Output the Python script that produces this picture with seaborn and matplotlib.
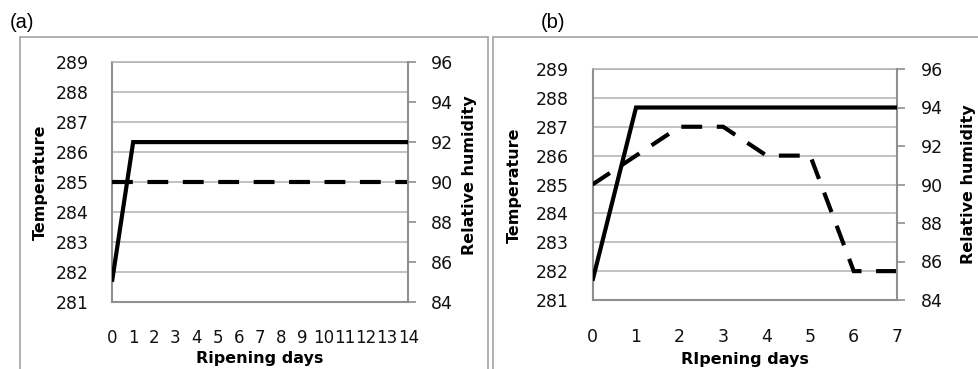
import matplotlib
matplotlib.use("Agg")
import matplotlib.pyplot as plt
from matplotlib.lines import Line2D
import seaborn as sns

# ---------------- data ----------------
days_a = [0, 1, 2, 3, 4, 5, 6, 7, 8, 9, 10, 11, 12, 13, 14]
temp_a = [285, 285, 285, 285, 285, 285, 285, 285, 285, 285, 285, 285, 285, 285, 285]
rh_a = [85, 92, 92, 92, 92, 92, 92, 92, 92, 92, 92, 92, 92, 92, 92]

days_b = [0, 1, 2, 3, 4, 5, 6, 7]
temp_b = [285, 286, 287, 287, 286, 286, 282, 282]
rh_b = [85, 94, 94, 94, 94, 94, 94, 94]

temp_ticks = [281, 282, 283, 284, 285, 286, 287, 288, 289]
rh_ticks = [84, 86, 88, 90, 92, 94, 96]

panel_labels = ["(a)", "(b)"]
xlabels = ["Ripening days", "RIpening days"]
ylabel_left = "Temperature"
ylabel_right = "Relative humidity"

# ---------------- style ----------------
sns.set_style("white")
plt.rcParams["font.family"] = ["DejaVu Sans"]

W, H = 979, 369
fig = plt.figure(figsize=(W / 100, H / 100), dpi=100)

GRID = "#b0b0b0"
SPINE = "#8f8f8f"
TXT = "#111111"


def fx(px):
    return px / W


def fy(py):
    return 1 - py / H


# panel frames
frame_kw = dict(color="#a3a3a3", lw=1.2, transform=fig.transFigure)
fig.add_artist(Line2D([fx(20), fx(20)], [fy(37), fy(380)], **frame_kw))
fig.add_artist(Line2D([fx(20), fx(488.5)], [fy(37), fy(37)], **frame_kw))
fig.add_artist(Line2D([fx(488.5), fx(488.5)], [fy(37), fy(380)], **frame_kw))
fig.add_artist(Line2D([fx(493.5), fx(493.5)], [fy(37), fy(380)], **frame_kw))
fig.add_artist(Line2D([fx(493.5), fx(990)], [fy(37), fy(37)], **frame_kw))

specs = [
    dict(rect=[fx(112), fy(301.7), 296.3 / W, 239.4 / H],
         days=days_a, temp=temp_a, rh=rh_a, xmax=14,
         lpad=16.5, rpad=10.5,
         ylab_l=(-0.243, 0.498), ylab_r=(1.208, 0.529), xlab=(0.5, -0.237),
         plabel=(22, 22.5), xtsize=12),
    dict(rect=[fx(592.5), fy(300), 304.8 / W, 231 / H],
         days=days_b, temp=temp_b, rh=rh_b, xmax=7,
         lpad=17, rpad=11.5,
         ylab_l=(-0.255, 0.498), ylab_r=(1.232, 0.502), xlab=(0.5, -0.258),
         plabel=(553.5, 23), xtsize=12.5),
]

for i, s in enumerate(specs):
    ax = fig.add_axes(s["rect"])
    tw = ax.twinx()

    # temperature (dashed, left axis)
    sns.lineplot(x=s["days"], y=s["temp"], ax=ax, color="black", linewidth=3,
                 linestyle=(0, (5, 3.5)), dash_capstyle="butt",
                 dash_joinstyle="miter", zorder=3)
    # relative humidity (solid, right axis)
    sns.lineplot(x=s["days"], y=s["rh"], ax=tw, color="black", linewidth=3,
                 solid_capstyle="butt", solid_joinstyle="miter", zorder=3)

    ax.set_xlim(0, s["xmax"])
    ax.set_xticks(s["days"])
    ax.set_ylim(temp_ticks[0], temp_ticks[-1])
    ax.set_yticks(temp_ticks)
    tw.set_ylim(rh_ticks[0], rh_ticks[-1])
    tw.set_yticks(rh_ticks)

    ax.grid(axis="y", color=GRID, lw=1.1)
    ax.grid(axis="x", visible=False)
    ax.set_axisbelow(True)

    for side in ["left", "bottom"]:
        ax.spines[side].set_visible(True)
        ax.spines[side].set_color(SPINE)
        ax.spines[side].set_linewidth(1.5)
    ax.spines["right"].set_visible(False)
    ax.spines["top"].set_visible(True)
    ax.spines["top"].set_color(GRID)
    ax.spines["top"].set_linewidth(1.1)
    for side in ["left", "bottom", "top"]:
        tw.spines[side].set_visible(False)
    tw.spines["right"].set_visible(True)
    tw.spines["right"].set_color(SPINE)
    tw.spines["right"].set_linewidth(1.5)

    ax.tick_params(axis="y", length=0, pad=s["lpad"], labelsize=12.5,
                   labelcolor=TXT, left=False)
    ax.tick_params(axis="x", length=0, pad=20, labelsize=s["xtsize"],
                   labelcolor=TXT, bottom=False)
    tw.tick_params(axis="y", right=True, length=5.5, width=1.2, color=SPINE,
                   pad=s["rpad"], labelsize=12.5, labelcolor=TXT, direction="out")

    ax.set_ylabel(ylabel_left, fontsize=11.5, fontweight="bold", va="center",
                  color="black")
    ax.yaxis.set_label_coords(*s["ylab_l"])
    tw.set_ylabel(ylabel_right, fontsize=11.5, fontweight="bold", va="center",
                  color="black")
    tw.yaxis.set_label_coords(*s["ylab_r"])
    ax.set_xlabel(xlabels[i], fontsize=11.5, fontweight="bold", va="center",
                  color="black")
    ax.xaxis.set_label_coords(*s["xlab"])

    fig.text(fx(s["plabel"][0]), fy(s["plabel"][1]), panel_labels[i],
             family="Liberation Sans", fontsize=14.5, ha="center", va="center",
             color="black")

fig.savefig("out.png", dpi=100)
